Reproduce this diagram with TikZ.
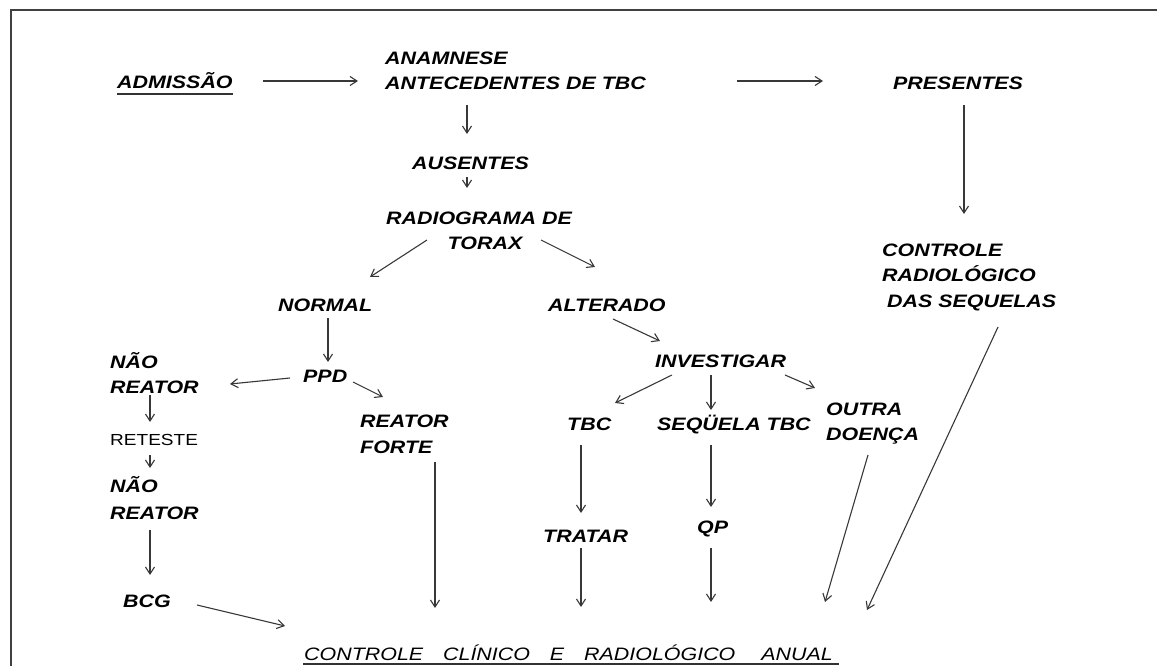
\documentclass[tikz,border=0pt]{standalone}
\usepackage{fontspec}
\usetikzlibrary{arrows.meta,calc}
\newfontfamily\labfont{Liberation Sans}[FakeStretch=1.19]
\tikzset{
  lab/.style={font=\labfont\fontsize{18}{25}\selectfont\bfseries\itshape, inner sep=0pt, anchor=base west, align=left},
  plainlab/.style={font=\labfont\fontsize{18}{25}\selectfont\itshape, inner sep=0pt, anchor=base west},
  smalllab/.style={font=\labfont\fontsize{16}{20}\selectfont, inner sep=0pt, anchor=base west},
  arr/.style={-{Straight Barb[length=7pt,width=9pt]}, line width=1.1pt, draw=black!78},
  uline/.style={line width=1.6pt, draw=black!80},
  frame/.style={line width=1.6pt, draw=black!75}
}
\begin{document}
\begin{tikzpicture}[x=1pt,y=-1pt]
\useasboundingbox (0,0) rectangle (1157,666);
\draw[frame] (11,666) -- (11,10) -- (1157,10);

% multi-line nodes: base anchor = baseline of the last line
\node[lab] (adm) at (117,89) {ADMISSÃO};
\node[lab] (ana) at (385,90) {ANAMNESE\\ANTECEDENTES DE TBC};
\node[lab] (pre) at (893,90) {PRESENTES};
\node[lab, font=\labfont\fontsize{18}{25.5}\selectfont\bfseries\itshape] (crs) at (882,307) {CONTROLE\\RADIOLÓGICO\\\hspace{5pt}DAS SEQUELAS};
\node[lab] (aus) at (412,169) {AUSENTES};
\node[lab, anchor=base, align=center] (rad) at (479,249) {RADIOGRAMA DE\\\hspace{12pt}TORAX};
\node[lab] (nor) at (278,311) {NORMAL};
\node[lab] (alt) at (548,311) {ALTERADO};
\node[lab] (ppd) at (303,382) {PPD};
\node[lab] (inv) at (655,367) {INVESTIGAR};
\node[lab] (nr1) at (110,393) {NÃO\\REATOR};
\node[smalllab] (ret) at (110,445) {RETESTE};
\node[lab, font=\labfont\fontsize{18}{27}\selectfont\bfseries\itshape] (nr2) at (110,519) {NÃO\\REATOR};
\node[lab] (bcg) at (123,607) {BCG};
\node[lab, font=\labfont\fontsize{18}{26}\selectfont\bfseries\itshape] (rf) at (360,453) {REATOR\\FORTE};
\node[lab] (tbc) at (567,430) {TBC};
\node[lab] (seq) at (657,430) {SEQÜELA TBC};
\node[lab] (out) at (826,440) {OUTRA\\DOENÇA};
\node[lab] (tra) at (543,542) {TRATAR};
\node[lab] (qp) at (697,533) {QP};
\node[plainlab] (ctl) at (304,660) {CONTROLE\hspace{14pt} CLÍNICO\hspace{14pt} E\hspace{14pt} RADIOLÓGICO\hspace{20pt} ANUAL};

\draw[uline] ($(adm.base west)+(0,5)$) -- ($(adm.base east)+(0,5)$);
\draw[uline] ($(ctl.base west)+(-1,4)$) -- ($(ctl.base east)+(6,4)$);

\draw[arr] ($(adm.base west)+(146,-8)$) -- ($(ana.base west)+(-27,-9)$);
\draw[arr] ($(ana.base west)+(352,-9)$) -- ($(pre.base west)+(-70,-9)$);
\draw[arr] ($(pre.base west)+(71,15)$) -- ($(crs.base west)+(82,-93)$);
\draw[arr] ($(ana.base west)+(82,15)$) -- ($(aus.base west)+(55,-35)$);
\draw[arr] ($(aus.base west)+(55,8)$) -- ($(rad.base)+(-12,-61)$);
\draw[arr] ($(rad.base)+(-52,-9)$) -- ($(nor.base west)+(92,-34)$);
\draw[arr] ($(rad.base)+(62,-9)$) -- ($(alt.base west)+(47,-44)$);
\draw[arr] ($(nor.base west)+(50,7)$) -- ($(ppd.base west)+(25,-20)$);
\draw[arr] ($(ppd.base west)+(-13,-4)$) -- ($(nr1.base west)+(120,-9)$);
\draw[arr] ($(ppd.base west)+(50,0)$) -- ($(rf.base west)+(23,-56)$);
\draw[arr] ($(alt.base west)+(65,8)$) -- ($(inv.base west)+(5,-26)$);
\draw[arr] ($(inv.base west)+(17,8)$) -- ($(tbc.base west)+(48,-27)$);
\draw[arr] ($(inv.base west)+(56,8)$) -- ($(seq.base west)+(54,-20)$);
\draw[arr] ($(inv.base west)+(130,8)$) -- ($(out.base west)+(-11,-52)$);
\draw[arr] ($(nr1.base west)+(40,2)$) -- ($(ret.base west)+(40,-23)$);
\draw[arr] ($(ret.base west)+(40,10)$) -- ($(nr2.base west)+(40,-51)$);
\draw[arr] ($(nr2.base west)+(40,11)$) -- ($(bcg.base west)+(27,-32)$);
\draw[arr] ($(bcg.base west)+(74,-2)$) -- ($(ctl.base west)+(-19,-34)$);
\draw[arr] ($(rf.base west)+(75,9)$) -- ($(ctl.base west)+(131,-52)$);
\draw[arr] ($(tbc.base west)+(14,15)$) -- ($(tra.base west)+(38,-29)$);
\draw[arr] ($(tra.base west)+(38,6)$) -- ($(ctl.base west)+(277,-53)$);
\draw[arr] ($(seq.base west)+(54,15)$) -- ($(qp.base west)+(14,-26)$);
\draw[arr] ($(qp.base west)+(14,15)$) -- ($(ctl.base west)+(407,-58)$);
\draw[arr] ($(out.base west)+(42,15)$) -- ($(ctl.base west)+(521,-58)$);
\draw[arr] ($(crs.base west)+(116,20)$) -- ($(ctl.base west)+(563,-50)$);
\end{tikzpicture}
\end{document}
